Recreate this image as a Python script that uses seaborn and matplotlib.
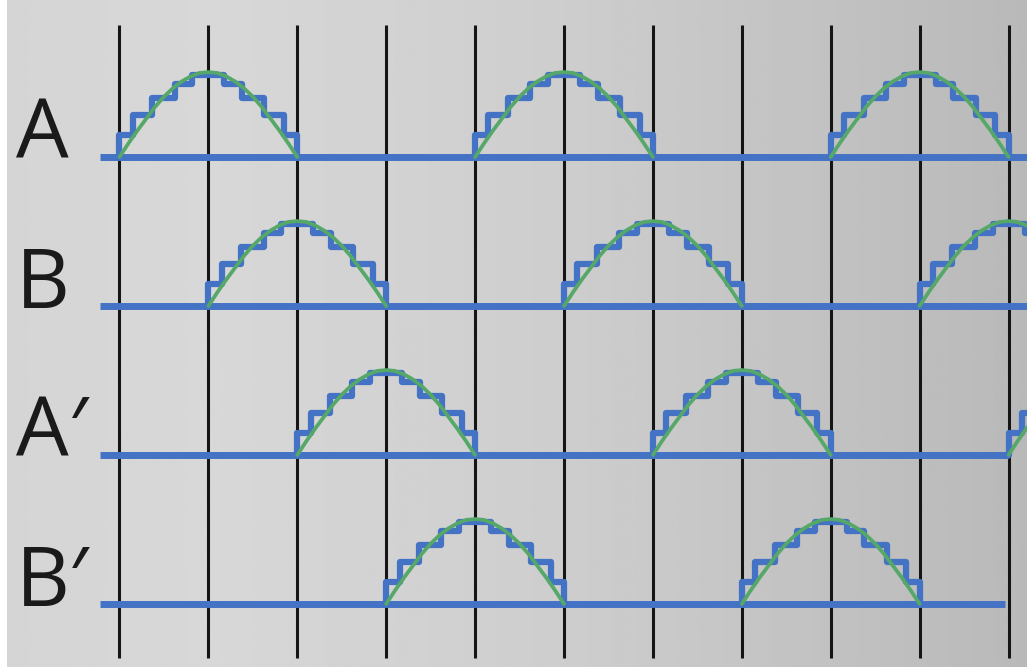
import numpy as np
import pandas as pd
import matplotlib
matplotlib.use("Agg")
import matplotlib.pyplot as plt
import seaborn as sns

# rows of the timing diagram (label, arc start positions in grid units, end of baseline)
row_labels = ["A", "B", "A\u2032", "B\u2032"]
arc_starts = [[0, 4, 8], [1, 5, 9], [2, 6, 10], [3, 7]]
baseline_end = [10.4, 10.4, 10.0, 9.96]
baseline_start = -0.22

# grid lines (vertical)
grid_x = list(range(11))

# one arc spans two grid units; heights as fraction of arc height
arc_width = 2.0
arc_height = 0.57
smooth_x = [0.0, 0.1, 0.2, 0.3, 0.4, 0.5, 0.6, 0.7, 0.8, 0.9, 1.0,
            1.1, 1.2, 1.3, 1.4, 1.5, 1.6, 1.7, 1.8, 1.9, 2.0]
smooth_y = [0.0, 0.16, 0.31, 0.45, 0.59, 0.71, 0.81, 0.89, 0.95, 0.99, 1.0,
            0.99, 0.95, 0.89, 0.81, 0.71, 0.59, 0.45, 0.31, 0.16, 0.0]
step_edges = [0.0, 0.15, 0.37, 0.62, 0.82, 1.18, 1.38, 1.63, 1.85, 2.0]
step_levels = [0.26, 0.50, 0.69, 0.86, 0.97, 0.86, 0.69, 0.50, 0.26, 0.0]

blue = "#4472c4"
green = "#55a868"

# build long tables
smooth_rows, step_rows = [], []
uid = 0
for r, starts in enumerate(arc_starts):
    for s in starts:
        for xx, yy in zip(smooth_x, smooth_y):
            smooth_rows.append({"x": s + xx, "y": -r + yy * arc_height, "arc": uid})
        step_rows.append({"x": s, "y": -r, "arc": uid})
        for xx, yy in zip(step_edges, step_levels):
            step_rows.append({"x": s + xx, "y": -r + yy * arc_height, "arc": uid})
        uid += 1
smooth_df = pd.DataFrame(smooth_rows)
step_df = pd.DataFrame(step_rows)

sns.set_style("white")
fig = plt.figure(figsize=(10.27, 6.67), dpi=100)
ax = fig.add_axes([0, 0, 1, 1])
xlim = (-1.344, 10.208)
ylim = (-3.423, 1.054)

# grey gradient background
stops_x = [-1.27, 1.0, 5.0, 10.21]
stops_v = [0.835, 0.845, 0.805, 0.725]
gx = np.linspace(-1.27, 10.21, 400)
grad = np.interp(gx, stops_x, stops_v)[None, :]
ax.imshow(grad, cmap="gray", vmin=0, vmax=1, aspect="auto",
          extent=[-1.27, 10.21, ylim[0], ylim[1]], zorder=0)

for gxv in grid_x:
    ax.plot([gxv, gxv], [0.886, -3.362], color="#151515", lw=2.2, zorder=1,
            solid_capstyle="butt")

for r in range(len(row_labels)):
    ax.plot([baseline_start, baseline_end[r]], [-r, -r], color=blue, lw=5,
            zorder=2, solid_capstyle="butt")

sns.lineplot(data=step_df, x="x", y="y", units="arc", estimator=None, sort=False,
             drawstyle="steps-post", color=blue, lw=4.5, ax=ax, zorder=3,
             solid_joinstyle="round")
sns.lineplot(data=smooth_df, x="x", y="y", units="arc", estimator=None, sort=False,
             color=green, lw=2.7, ax=ax, zorder=4)

for r, lab in enumerate(row_labels):
    ax.text(-1.16, -r - 0.013, lab, fontsize=60, color="#1a1a1a", va="baseline",
            ha="left", family=["Open Sans", "DejaVu Sans"])

ax.set_xlim(xlim)
ax.set_ylim(ylim)
ax.set_axis_off()
fig.savefig("out.png", dpi=100, facecolor="white")
